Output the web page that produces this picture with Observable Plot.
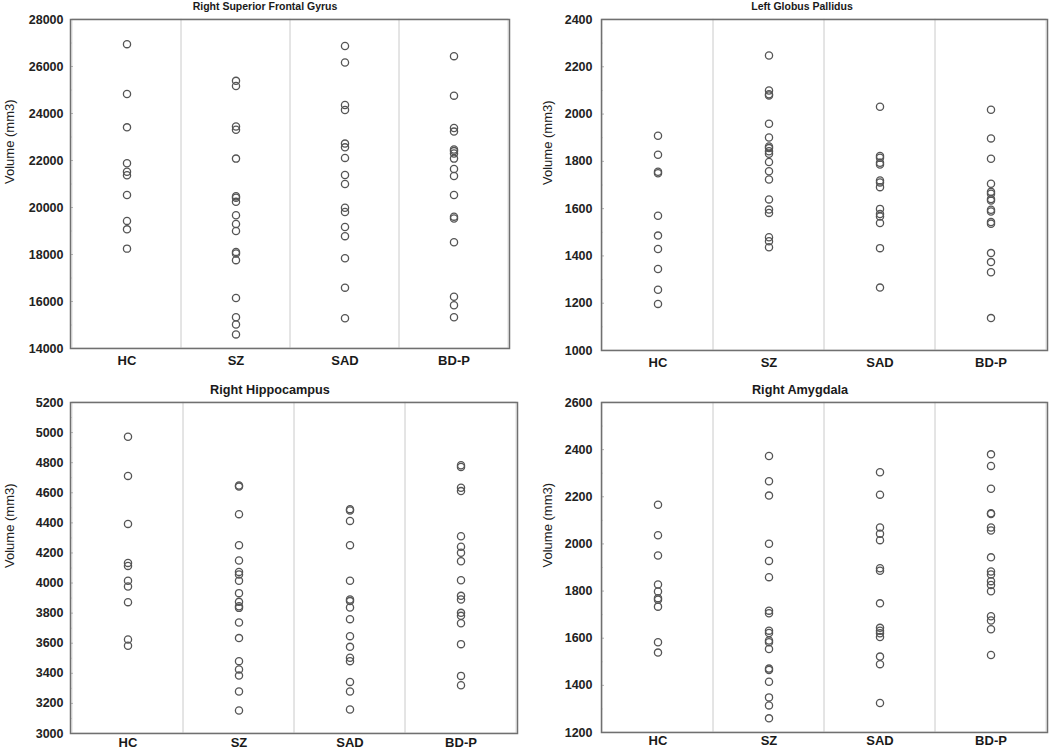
<!DOCTYPE html>
<html>
<head>
<meta charset="utf-8">
<script src="https://cdn.jsdelivr.net/npm/d3@7"></script>
<script src="https://cdn.jsdelivr.net/npm/@observablehq/plot@0.6"></script>
<style>
  html, body { margin: 0; padding: 0; background: #fff; }
  #root { position: relative; width: 1050px; height: 750px; overflow: hidden; font-family: "Liberation Sans", Arial, sans-serif; }
  .panel { position: absolute; }
  .panel svg { overflow: visible; }
  .title { position: absolute; width: 300px; text-align: center; font-weight: bold; color: #1a1a1a; z-index: 2; white-space: nowrap; }
</style>
</head>
<body>
<div id="root"></div>
<script>
// ---- categories ----
const groups = ["HC", "SZ", "SAD", "BD-P"];
const yLabel = "Volume (mm3)";

// ---- Right Superior Frontal Gyrus ----
const sfgHC  = [26950, 24830, 23410, 21880, 21520, 21370, 20530, 19430, 19070, 18250];
const sfgSZ  = [25390, 25170, 23450, 23310, 22080, 20480, 20420, 20240, 19670, 19300, 19000, 18110, 18040, 17760, 16150, 15330, 15020, 14600];
const sfgSAD = [26870, 26170, 24360, 24150, 22720, 22560, 22110, 21380, 21000, 19990, 19810, 19170, 18780, 17840, 16590, 15290];
const sfgBDP = [26440, 24760, 23380, 23230, 22470, 22400, 22300, 22080, 21640, 21340, 20530, 19610, 19530, 18520, 16200, 15840, 15330];
const sfgTicks = [14000, 16000, 18000, 20000, 22000, 24000, 26000, 28000];

// ---- Left Globus Pallidus ----
const gpHC  = [1908, 1828, 1756, 1750, 1570, 1486, 1429, 1345, 1257, 1197];
const gpSZ  = [2248, 2100, 2084, 2079, 1959, 1901, 1863, 1856, 1843, 1832, 1797, 1758, 1723, 1639, 1596, 1582, 1479, 1462, 1437];
const gpSAD = [2031, 1823, 1815, 1794, 1787, 1719, 1711, 1691, 1599, 1577, 1567, 1539, 1433, 1266];
const gpBDP = [2018, 1897, 1811, 1705, 1671, 1663, 1641, 1634, 1595, 1588, 1543, 1536, 1412, 1374, 1331, 1137];
const gpTicks = [1000, 1200, 1400, 1600, 1800, 2000, 2200, 2400];

// ---- Right Hippocampus ----
const hipHC  = [4972, 4712, 4393, 4134, 4114, 4015, 3977, 3873, 3625, 3583];
const hipSZ  = [4648, 4641, 4458, 4252, 4150, 4074, 4057, 4015, 3933, 3875, 3846, 3835, 3738, 3634, 3481, 3425, 3385, 3279, 3153];
const hipSAD = [4491, 4482, 4413, 4252, 4015, 3891, 3880, 3837, 3760, 3647, 3576, 3503, 3481, 3343, 3279, 3160];
const hipBDP = [4783, 4772, 4633, 4611, 4311, 4241, 4201, 4145, 4019, 3915, 3891, 3802, 3782, 3733, 3594, 3383, 3321];
const hipTicks = [3000, 3200, 3400, 3600, 3800, 4000, 4200, 4400, 4600, 4800, 5000, 5200];

// ---- Right Amygdala ----
const amyHC  = [2166, 2037, 1951, 1828, 1798, 1770, 1763, 1734, 1583, 1539];
const amySZ  = [2373, 2266, 2205, 2001, 1928, 1859, 1717, 1706, 1632, 1622, 1590, 1583, 1554, 1471, 1465, 1415, 1349, 1315, 1260];
const amySAD = [2304, 2209, 2070, 2043, 2016, 1897, 1886, 1748, 1644, 1632, 1621, 1605, 1522, 1490, 1325];
const amyBDP = [2380, 2331, 2234, 2130, 2127, 2070, 2057, 1943, 1883, 1870, 1842, 1826, 1799, 1693, 1675, 1638, 1529];
const amyTicks = [1200, 1400, 1600, 1800, 2000, 2200, 2400, 2600];

const panels = [
  { title: "Right Superior Frontal Gyrus", series: [sfgHC, sfgSZ, sfgSAD, sfgBDP], ticks: sfgTicks,
    left: 0, top: 12, width: 525, height: 362, mL: 70, mR: 16, mT: 7, mB: 26, pad: 7, xPad: 7, labDx: -61,
    tX: 265, tY: 6, tSize: 10.5 },
  { title: "Left Globus Pallidus", series: [gpHC, gpSZ, gpSAD, gpBDP], ticks: gpTicks,
    left: 525, top: 12, width: 525, height: 362, mL: 76, mR: 3, mT: 7, mB: 24, pad: 9, xPad: 7, labDx: -54,
    tX: 802, tY: 6, tSize: 10.5 },
  { title: "Right Hippocampus", series: [hipHC, hipSZ, hipSAD, hipBDP], ticks: hipTicks,
    left: 0, top: 396, width: 525, height: 354, mL: 70, mR: 8, mT: 6, mB: 17, pad: 7, xPad: 4, labDx: -61,
    tX: 270, tY: 390, tSize: 12.7 },
  { title: "Right Amygdala", series: [amyHC, amySZ, amySAD, amyBDP], ticks: amyTicks,
    left: 525, top: 396, width: 525, height: 354, mL: 76, mR: 3, mT: 6, mB: 18, pad: 9, xPad: 3, labDx: -54,
    tX: 800, tY: 390, tSize: 12.7 }
];

const root = document.getElementById("root");
const fmt = d3.format("d");

for (const p of panels) {
  const rows = [];
  p.series.forEach((vals, i) => vals.forEach(v => rows.push({ group: groups[i], value: v })));
  const lo = p.ticks[0], hi = p.ticks[p.ticks.length - 1];
  const step = p.ticks[1] - p.ticks[0];
  const minors = p.ticks.slice(0, -1).map(t => t + step / 2);

  const chart = Plot.plot({
    width: p.width,
    height: p.height,
    marginLeft: p.mL, marginRight: p.mR, marginTop: p.mT, marginBottom: p.mB,
    style: { fontFamily: "'Liberation Sans', Arial, sans-serif", background: "transparent", overflow: "visible" },
    x: { type: "band", domain: groups, padding: 0 },
    y: { domain: [lo, hi] },
    marks: [
      Plot.barY(groups, { x: d => d, y1: lo, y2: hi, fill: "none", stroke: "#dcdcdc", strokeWidth: 1 }),
      Plot.axisY({ ticks: minors, tickSize: 2, dx: 2, tickFormat: () => "", stroke: "#d0d0d0", label: null }),
      Plot.axisY({ ticks: p.ticks, tickSize: 3, dx: 3, tickFormat: () => "", stroke: "#b0b0b0", label: null }),
      Plot.axisY({ ticks: p.ticks, tickSize: 0, tickPadding: p.pad, tickFormat: fmt, fontSize: 12.5, fontWeight: "bold", fill: "#222", label: null }),
      Plot.axisX({ tickSize: 0, tickPadding: p.xPad, fontSize: 13, fontWeight: "bold", fill: "#1a1a1a", label: null }),
      Plot.text([yLabel], { text: d => d, frameAnchor: "left", rotate: -90, dx: p.labDx, fontSize: 13, fill: "#222" }),
      Plot.dot(rows, { x: "group", y: "value", r: 3.6, stroke: "#555", strokeWidth: 1.3, fill: "none" }),
      Plot.frame({ stroke: "#707070", strokeWidth: 1.5 })
    ]
  });
  const wrap = document.createElement("div");
  wrap.className = "panel";
  wrap.style.left = p.left + "px";
  wrap.style.top = p.top + "px";
  wrap.appendChild(chart);
  root.appendChild(wrap);

  const t = document.createElement("div");
  t.className = "title";
  t.textContent = p.title;
  t.style.fontSize = p.tSize + "px";
  t.style.lineHeight = "14px";
  t.style.left = (p.tX - 150) + "px";
  t.style.top = (p.tY - 7) + "px";
  root.appendChild(t);
}
</script>
</body>
</html>
